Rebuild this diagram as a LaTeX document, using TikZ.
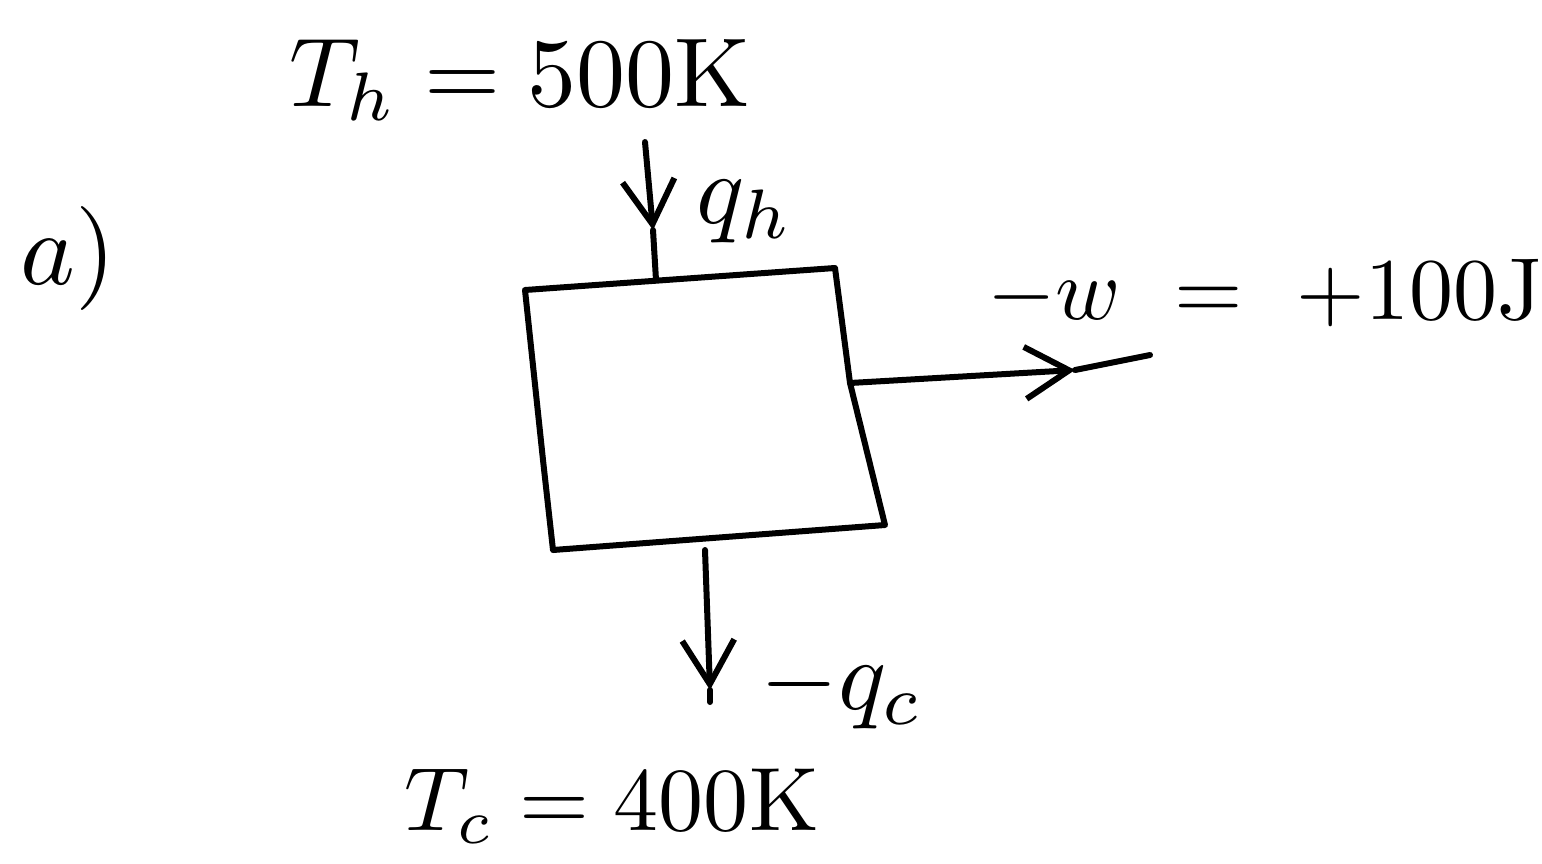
\documentclass[tikz,border=0pt]{standalone}
\usepackage{graphicx}
\usetikzlibrary{arrows.meta}
\begin{document}
\begin{tikzpicture}[x=0.5pt,y=-0.5pt,
  stroke/.style={line width=3pt, line cap=round, line join=round},
  arr/.style={stroke, -{Straight Barb[length=22pt,width=26pt,line width=3pt]}},
  lbl/.style={inner sep=0pt}]
\useasboundingbox (0,0) rectangle (1542,863);
% labels
\node[lbl] (parta) at (68,258) {\scalebox{5.2}{$a)$}};
\node[lbl] (th) at (520,80) {\scalebox{4.9}{$T_h = 500$K}};
\node[lbl] (qh) at (745,212) {\scalebox{5.0}{$q_h$}};
\node[lbl] (w) at (1265,293) {\scalebox{4.4}{$-w\ =\ +100$J}};
\node[lbl] (qc) at (842,690) {\scalebox{5.0}{$-q_c$}};
\node[lbl] (tc) at (612,806) {\scalebox{4.5}{$T_c = 400$K}};
% box corners
\coordinate (tl) at (525,290);
\coordinate (tr) at (835,268);
\coordinate (rm) at (850,383);
\coordinate (br) at (885,525);
\coordinate (bl) at (553,550);
\coordinate (lm) at (543,460);
\draw[stroke] (tl) -- (tr) -- (rm) -- (br) -- (bl) -- (lm) -- (tl);
% hot arrow
\coordinate (qhtop) at (645,142);
\coordinate (qhtip) at (653,230);
\coordinate (qhbot) at (656,280);
\draw[arr] (qhtop) -- (qhtip);
\draw[stroke] (qhtip) -- (qhbot);
% work arrow
\coordinate (wtip) at (1075,370);
\coordinate (wend) at (1150,355);
\draw[arr] (rm) -- (wtip);
\draw[stroke] (wtip) -- (wend);
% cold arrow
\coordinate (qctop) at (705,550);
\coordinate (qctip) at (710,690);
\coordinate (qcend) at (710,702);
\draw[arr] (qctop) -- (qctip);
\draw[stroke] (qctip) -- (qcend);
\end{tikzpicture}
\end{document}
